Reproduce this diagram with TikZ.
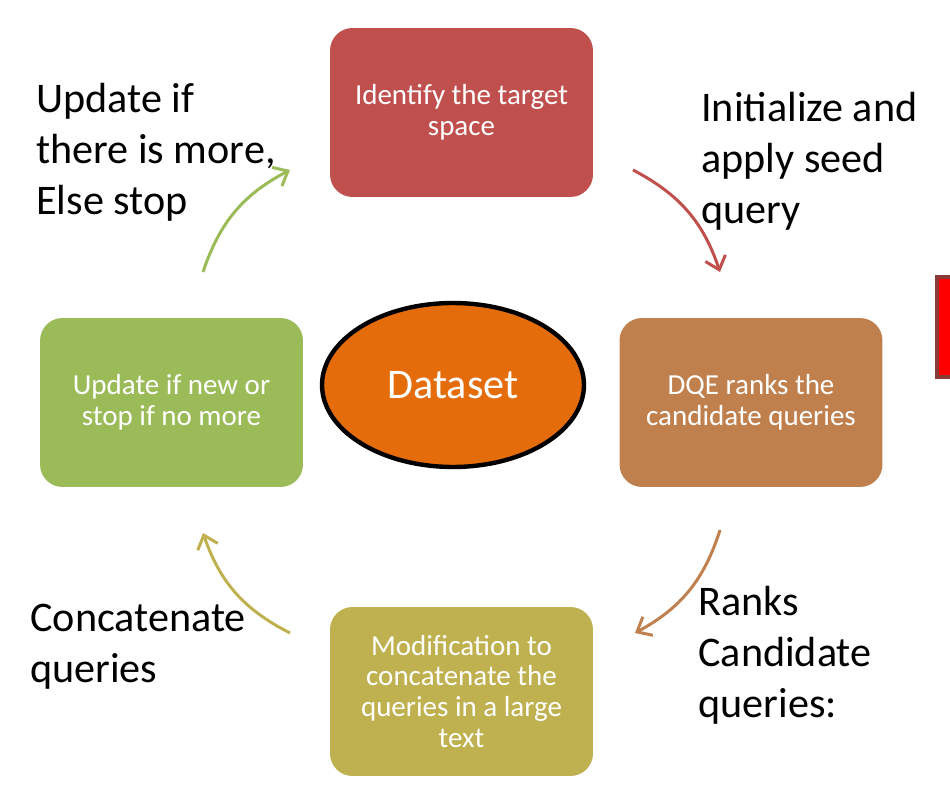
\documentclass[tikz,border=0pt]{standalone}
\usepackage{fontspec}
\setmainfont{Carlito}
\usepackage{tikz}
\usepackage{xcolor}
\usetikzlibrary{shapes, positioning, arrows.meta}

\definecolor{stepred}{HTML}{C0504D}
\definecolor{steporange}{HTML}{C0804D}
\definecolor{stepolive}{HTML}{BFB14F}
\definecolor{stepgreen}{HTML}{9BBB59}
\definecolor{dataorange}{HTML}{E46C0A}
\definecolor{edgebrown}{HTML}{8B3A3A}

\tikzset{
  stage/.style={rectangle, rounded corners=0.45cm, minimum width=5.26cm, minimum height=3.38cm,
    text=white, align=center, font=\fontsize{16.5}{17.6}\selectfont},
  remark/.style={anchor=west, align=left, inner sep=0pt, font=\fontsize{24}{29}\selectfont},
  cycle/.style={line width=1.7pt, -{Straight Barb[length=7pt, width=12pt]}, bend left=22},
}

\begin{document}
\begin{tikzpicture}[x=0.02cm, y=0.02cm]
        \useasboundingbox (0, 0) rectangle (950, 788);

        \node[stage, fill=stepred] (ident) at (461.5, 675.5) {Identify the target\\space};
        \node[stage, fill=steporange] (rank) at (751, 385.5) {DQE ranks the\\candidate queries};
        \node[stage, fill=stepolive] (modif) at (461.5, 96.5) {Modification to\\concatenate the\\queries in a large\\text};
        \node[stage, fill=stepgreen] (update) at (171.5, 385.5) {Update if new or\\stop if no more};
        \node[ellipse, draw=black, line width=2.5pt, fill=dataorange, minimum width=5.24cm, minimum height=3.28cm,
            text=white, font=\fontsize{24}{29}\selectfont] (data) at (453, 403) {Dataset};

        \node[remark] (more) at (36, 636) {Update if\\there is more,\\Else stop};
        \node[remark] (seed) at (701, 627) {Initialize and\\apply seed\\query};
        \node[remark] (ranks) at (698, 133) {Ranks\\Candidate\\queries:};
        \node[remark] (concat) at (30, 141) {Concatenate\\queries};

        \coordinate (r0) at (633, 618);
        \coordinate (r1) at (720, 516);
        \coordinate (b0) at (720, 258);
        \coordinate (b1) at (635, 155);
        \coordinate (o0) at (290, 155);
        \coordinate (o1) at (203, 255);
        \coordinate (g0) at (203, 516);
        \coordinate (g1) at (290, 618);

        \draw[cycle, stepred] (r0) to (r1);
        \draw[cycle, steporange] (b0) to (b1);
        \draw[cycle, stepolive] (o0) to (o1);
        \draw[cycle, stepgreen] (g0) to (g1);

        \draw[edgebrown, fill=red, line width=2.6pt] (937, 511) rectangle (960, 411);
    \end{tikzpicture}
\end{document}
